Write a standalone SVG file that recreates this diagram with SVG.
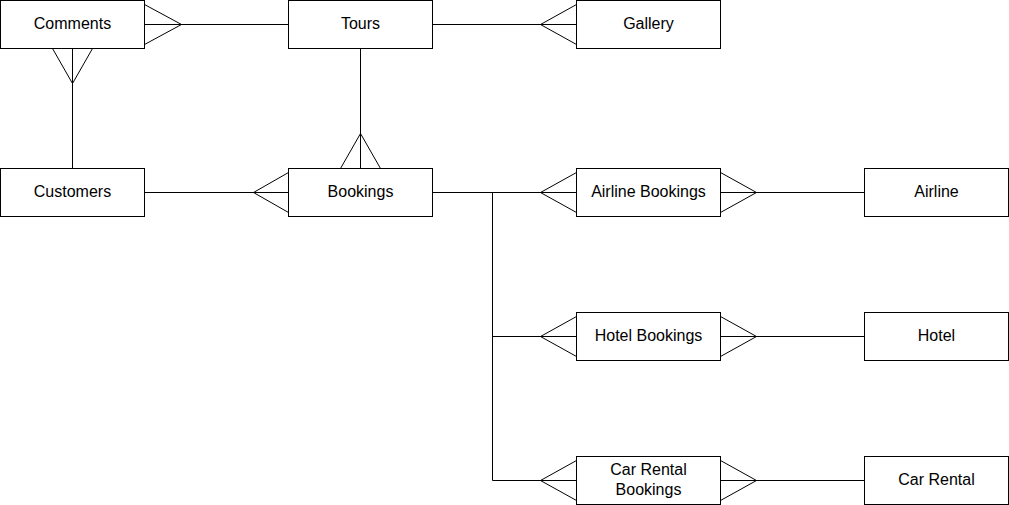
<svg xmlns="http://www.w3.org/2000/svg" width="1009" height="505" viewBox="0 0 1009 505">
<style>
.box{fill:#fff;stroke:#000;stroke-width:1}
.t{font-family:"Liberation Sans",Arial,sans-serif;font-size:16px;fill:#000;text-anchor:middle}
.c{fill:none;stroke:#000;stroke-width:1}
</style>
<rect width="1009" height="505" fill="#fff"/>
<g id="connectors" class="c">
<path d="M144.5,24.5H288.5 M144.5,4.5L181.5,24.5L144.5,44.5"/>
<path d="M72.5,48.5V168.5 M52.5,48.5L72.5,83.5L92.5,48.5"/>
<path d="M432.5,24.5H576.5 M576.5,4.5L540.5,24.5L576.5,44.5"/>
<path d="M360.5,48.5V168.5 M340.5,168.5L360.5,133.5L380.5,168.5"/>
<path d="M144.5,192.5H288.5 M288.5,172.5L253.5,192.5L288.5,212.5"/>
<path d="M432.5,192.5H576.5 M576.5,172.5L540.5,192.5L576.5,212.5"/>
<path d="M492.5,192.5V480.5"/>
<path d="M492.5,336.5H576.5 M576.5,316.5L540.5,336.5L576.5,356.5"/>
<path d="M492.5,480.5H576.5 M576.5,460.5L540.5,480.5L576.5,500.5"/>
<path d="M720.5,192.5H864.5 M720.5,172.5L756.5,192.5L720.5,212.5"/>
<path d="M720.5,336.5H864.5 M720.5,316.5L756.5,336.5L720.5,356.5"/>
<path d="M720.5,480.5H864.5 M720.5,460.5L756.5,480.5L720.5,500.5"/>
</g>
<g id="comments"><rect class="box" x="0.5" y="0.5" width="144" height="48"/><text class="t" x="72.5" y="29">Comments</text></g>
<g id="tours"><rect class="box" x="288.5" y="0.5" width="144" height="48"/><text class="t" x="360.5" y="29">Tours</text></g>
<g id="gallery"><rect class="box" x="576.5" y="0.5" width="144" height="48"/><text class="t" x="648.5" y="29">Gallery</text></g>
<g id="customers"><rect class="box" x="0.5" y="168.5" width="144" height="48"/><text class="t" x="72.5" y="197">Customers</text></g>
<g id="bookings"><rect class="box" x="288.5" y="168.5" width="144" height="48"/><text class="t" x="360.5" y="197">Bookings</text></g>
<g id="airline-bookings"><rect class="box" x="576.5" y="168.5" width="144" height="48"/><text class="t" x="648.5" y="197">Airline Bookings</text></g>
<g id="airline"><rect class="box" x="864.5" y="168.5" width="144" height="48"/><text class="t" x="936.5" y="197">Airline</text></g>
<g id="hotel-bookings"><rect class="box" x="576.5" y="312.5" width="144" height="48"/><text class="t" x="648.5" y="341">Hotel Bookings</text></g>
<g id="hotel"><rect class="box" x="864.5" y="312.5" width="144" height="48"/><text class="t" x="936.5" y="341">Hotel</text></g>
<g id="car-rental-bookings"><rect class="box" x="576.5" y="456.5" width="144" height="48"/><text class="t" x="648.5" y="475">Car Rental</text><text class="t" x="648.5" y="495">Bookings</text></g>
<g id="car-rental"><rect class="box" x="864.5" y="456.5" width="144" height="48"/><text class="t" x="936.5" y="485">Car Rental</text></g>
</svg>
